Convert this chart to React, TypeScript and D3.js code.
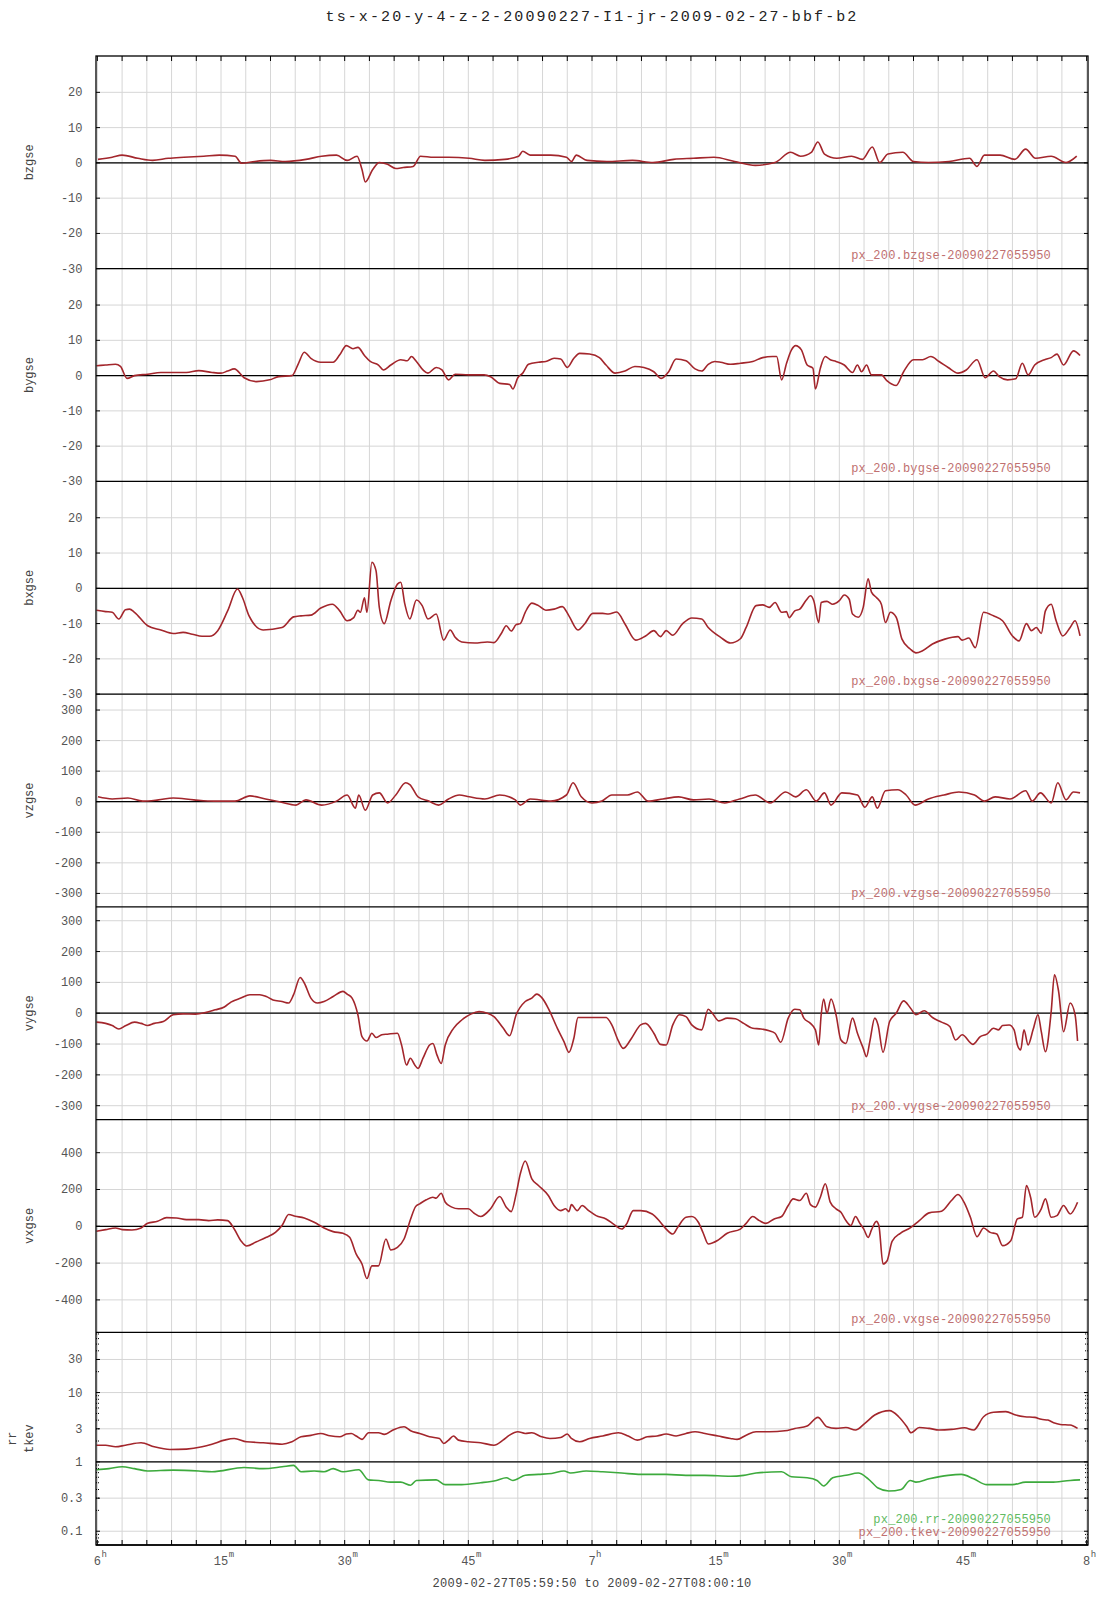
import React from 'react';
import * as d3 from 'd3';

// ---------- data (time in minutes after 06:00, value) ----------
const bzgse: [number, number][] = [[0.07,1.0],[1.8,1.6],[3.0,2.2],[4.9,1.3],[6.7,0.7],[8.6,1.3],[10.5,1.6],[12.9,1.9],[14.8,2.2],[16.7,1.9],[17.5,-0.1],[19.1,0.4],[21.0,0.7],[22.8,0.4],[25.3,1.0],[27.2,1.9],[29.0,2.2],[30.3,0.7],[31.5,1.9],[32.1,-1.9],[32.5,-5.4],[33.4,-1.9],[34.2,0.1],[35.2,-0.4],[36.2,-1.6],[37.1,-1.3],[38.3,-1.0],[39.2,1.9],[40.8,1.6],[42.6,1.6],[45.1,1.3],[47.0,0.7],[49.4,1.0],[51.1,1.9],[51.6,3.3],[52.5,2.2],[55.0,2.2],[56.9,1.6],[57.5,0.4],[58.1,2.2],[59.4,0.7],[61.8,0.4],[64.9,0.7],[67.4,0.1],[69.9,1.0],[72.3,1.3],[74.8,1.6],[77.3,0.4],[79.8,-0.7],[82.2,0.1],[84.1,3.0],[85.3,1.9],[86.6,3.0],[87.4,5.9],[88.2,2.5],[89.7,1.3],[91.5,1.9],[92.8,1.0],[94.0,4.5],[94.9,0.1],[95.9,2.5],[97.7,3.0],[99.0,0.4],[100.8,0.1],[103.3,0.4],[105.8,1.3],[106.7,-1.0],[107.6,2.2],[109.5,2.2],[111.3,1.0],[112.6,3.9],[113.8,1.3],[115.7,1.9],[117.5,0.1],[118.8,1.9]];

const bygse: [number, number][] = [[-0.1,2.8],[1.0,3.0],[2.2,3.2],[2.8,2.6],[3.6,-0.8],[4.5,0],[6.1,0.4],[7.7,0.9],[9.2,0.9],[10.8,0.9],[12.3,1.4],[13.9,0.9],[15.0,0.7],[15.8,1.3],[16.6,1.9],[17.8,-0.6],[19.3,-1.7],[20.9,-1.2],[22.0,-0.3],[23.6,0],[24.4,3.5],[25.1,6.6],[25.9,4.9],[27.1,3.8],[28.6,3.8],[29.4,5.9],[30.2,8.5],[31.0,7.6],[31.6,8.0],[32.4,5.7],[33.1,4.0],[34.1,3.0],[34.7,1.6],[35.6,3.0],[36.8,4.5],[37.6,4.2],[38.1,5.4],[38.7,4.0],[39.5,1.6],[40.1,0.7],[41.1,2.3],[41.8,1.6],[42.6,-1.2],[43.4,0.4],[45.0,0.2],[46.9,0.2],[47.7,-0.3],[48.8,-2.2],[50.0,-2.5],[50.4,-3.8],[51.0,-0.6],[51.6,0.7],[52.3,3.2],[53.5,3.8],[54.4,4.0],[55.4,4.9],[56.2,4.7],[57.0,2.3],[57.8,4.9],[58.5,6.3],[59.7,6.1],[60.9,5.1],[61.7,3.0],[62.8,0.7],[64.0,1.3],[65.2,2.6],[66.3,2.3],[67.5,1.1],[68.4,-0.8],[69.3,1.1],[70.2,4.7],[71.4,4.2],[72.5,1.9],[73.3,1.3],[74.1,3.2],[74.9,4.0],[75.6,3.8],[76.8,3.2],[78.0,3.5],[79.5,4.0],[80.7,5.1],[81.9,5.4],[82.4,5.4],[83.0,-1.2],[83.6,3.5],[84.2,7.3],[84.7,8.5],[85.4,7.3],[86.1,3.0],[86.8,2.1],[87.1,-3.8],[87.7,2.1],[88.3,5.4],[88.9,4.5],[89.6,4.0],[90.6,3.0],[91.6,0.9],[92.2,3.0],[92.7,1.1],[93.3,3.0],[93.9,0.2],[95.1,0.2],[95.8,-1.5],[96.9,-2.8],[97.8,1.1],[99.0,4.5],[100.1,4.5],[101.1,5.4],[102.1,4.0],[103.2,2.3],[104.4,0.7],[105.4,1.6],[106.7,4.5],[107.7,-0.6],[108.7,1.3],[109.4,-0.3],[110.4,-1.2],[111.4,-0.9],[112.2,3.5],[112.9,0.2],[113.7,3.0],[114.9,4.5],[115.7,5.1],[116.4,6.1],[117.2,3.0],[118.4,7.0],[119.2,5.7]];

const bxgse: [number, number][] = [[-0.1,-6.2],[1.0,-6.6],[1.8,-6.8],[2.6,-8.7],[3.4,-6.1],[3.9,-5.9],[4.5,-6.8],[6.1,-10.6],[7.7,-11.8],[9.2,-12.8],[10.4,-12.5],[11.5,-13.0],[12.7,-13.6],[13.6,-13.6],[14.6,-12.0],[15.8,-6.4],[17.0,-0.2],[17.6,-2.6],[18.4,-7.8],[20.1,-11.8],[22.4,-11.1],[23.8,-8.1],[24.7,-7.8],[25.9,-7.6],[27.1,-5.6],[28.5,-4.5],[29.4,-6.4],[30.3,-9.2],[31.1,-8.3],[31.6,-6.2],[31.9,-6.8],[32.4,-2.7],[32.7,-6.8],[33.3,7.4],[33.8,5.0],[34.2,-5.4],[34.8,-10.0],[35.6,-3.5],[36.4,1.2],[36.8,1.7],[37.3,-4.5],[37.9,-8.7],[38.7,-3.3],[39.4,-4.9],[40.1,-8.7],[41.1,-7.3],[42.0,-14.7],[42.8,-11.8],[43.4,-13.9],[44.2,-15.2],[45.8,-15.5],[47.3,-15.2],[48.1,-15.4],[49.0,-12.8],[49.6,-10.6],[50.2,-12.1],[50.8,-10.3],[51.3,-10.0],[51.9,-6.8],[52.7,-4.2],[53.5,-4.9],[54.4,-6.2],[55.4,-5.9],[56.4,-5.2],[57.2,-7.8],[58.3,-11.8],[59.1,-10.1],[60.1,-7.1],[61.3,-7.1],[62.0,-7.3],[63.0,-6.7],[64.0,-10.1],[65.3,-14.7],[66.5,-13.5],[67.5,-12.0],[68.3,-13.7],[69.0,-12.0],[69.8,-13.3],[71.0,-10.0],[72.1,-8.4],[73.3,-8.7],[74.1,-11.1],[75.6,-13.9],[76.8,-15.5],[78.0,-14.3],[78.7,-11.1],[79.9,-4.9],[80.7,-4.7],[81.5,-5.4],[82.2,-4.0],[83.0,-6.8],[83.6,-6.6],[83.9,-8.3],[84.6,-6.4],[85.2,-5.9],[86.0,-3.3],[86.5,-2.1],[86.9,-3.5],[87.5,-9.7],[87.8,-4.0],[88.5,-3.7],[89.2,-4.5],[90.0,-3.5],[90.6,-1.9],[91.2,-3.1],[91.6,-7.3],[92.3,-8.2],[92.9,-5.4],[93.5,2.7],[93.9,-1.1],[94.5,-2.6],[95.1,-4.5],[95.6,-9.7],[96.2,-6.8],[96.9,-8.2],[97.6,-14.4],[98.6,-17.2],[99.3,-18.3],[100.1,-17.7],[101.3,-15.8],[102.8,-14.4],[104.4,-13.7],[104.9,-14.7],[105.7,-14.1],[106.5,-16.8],[107.5,-6.8],[108.7,-7.8],[109.8,-9.2],[111.0,-13.5],[111.8,-14.9],[112.7,-10.0],[113.3,-12.0],[113.9,-11.1],[114.5,-12.8],[115.0,-6.4],[115.7,-4.5],[116.3,-9.2],[117.1,-13.5],[118.0,-11.1],[118.6,-9.2],[119.2,-13.5]];

const vzgse: [number, number][] = [[0.07,16],[1.8,9],[3.7,12],[5.5,2],[7.4,6],[9.2,12],[11.7,6],[14.2,2],[16.7,2],[18.5,19],[20.4,9],[22.2,-1],[24.1,-11],[25.3,6],[27.2,-11],[29.0,2],[30.3,22],[31.3,-21],[31.7,22],[32.5,-28],[33.4,22],[34.2,29],[35.2,-4],[36.2,22],[37.4,62],[37.9,56],[38.9,16],[40.2,2],[41.4,-11],[42.6,9],[43.9,22],[45.1,16],[47.0,9],[48.8,22],[50.7,6],[51.3,-11],[52.5,9],[55.0,2],[56.9,22],[57.7,62],[58.7,16],[60.0,-4],[61.2,2],[62.4,22],[64.3,22],[65.5,32],[66.8,2],[68.6,9],[70.5,16],[72.3,6],[74.2,9],[76.1,-4],[77.9,9],[79.8,22],[81.6,-4],[83.5,32],[84.7,16],[86.0,39],[87.2,2],[88.2,29],[89.0,-11],[90.3,29],[92.2,22],[93.1,-18],[94.0,16],[94.6,-21],[95.6,36],[97.1,39],[98.1,22],[99.2,-11],[100.8,9],[102.7,22],[104.5,32],[106.4,22],[107.6,2],[108.9,16],[110.7,9],[112.6,36],[113.4,2],[114.4,29],[115.7,-4],[116.5,62],[117.5,6],[118.4,32],[119.2,29]];

const vygse: [number, number][] = [[-0.1,-29],[1.0,-33],[1.8,-40],[2.6,-51],[3.4,-41],[4.5,-29],[5.3,-33],[6.1,-40],[6.9,-33],[8.0,-27],[9.2,-5],[10.4,-2],[11.9,-3],[13.1,2],[14.3,11],[15.4,20],[16.2,36],[17.4,49],[18.5,60],[19.7,60],[20.5,54],[21.3,43],[22.4,38],[23.2,33],[23.8,60],[24.6,116],[25.1,98],[25.9,49],[26.7,33],[27.5,38],[28.6,54],[29.8,71],[30.3,62],[30.9,49],[31.6,-5],[32.1,-76],[32.7,-90],[33.3,-65],[33.8,-79],[34.5,-70],[35.2,-68],[36.4,-65],[36.9,-103],[37.5,-168],[37.96,-146],[38.5,-168],[38.9,-179],[39.5,-146],[40.3,-103],[40.7,-98],[41.2,-136],[41.7,-163],[42.2,-103],[43.2,-49],[44.2,-22],[45.3,-3],[46.3,5],[47.3,0],[48.1,-11],[49.2,-47],[50.0,-73],[50.8,-5],[51.9,38],[52.7,49],[53.3,62],[53.96,49],[54.7,16],[55.8,-49],[56.6,-92],[57.2,-127],[57.8,-81],[58.3,-14],[59.6,-14],[60.9,-14],[61.7,-14],[62.4,-38],[63.2,-90],[63.8,-114],[64.8,-81],[65.9,-38],[66.5,-33],[67.5,-65],[68.3,-101],[69.0,-103],[69.8,-38],[70.6,-5],[71.4,-11],[72.1,-38],[73.3,-54],[74.1,13],[74.6,0],[75.4,-25],[76.4,-16],[77.4,-18],[78.4,-33],[79.5,-49],[80.5,-51],[81.5,-57],[82.2,-65],[82.9,-94],[83.8,-16],[84.6,13],[85.2,11],[85.7,-16],[86.5,-33],[87.1,-54],[87.5,-103],[87.8,-5],[88.1,46],[88.5,0],[89.0,46],[89.6,-5],[90.2,-87],[90.8,-98],[91.6,-16],[92.2,-65],[92.9,-114],[93.3,-141],[93.7,-92],[94.3,-16],[94.7,-38],[95.3,-127],[96.1,-27],[96.9,0],[97.8,40],[98.6,18],[99.3,-5],[100.3,8],[101.3,-14],[102.4,-29],[103.4,-43],[104.1,-87],[104.9,-70],[106.2,-101],[107.1,-76],[107.9,-68],[108.7,-49],[109.3,-54],[109.8,-40],[110.6,-38],[111.2,-54],[111.6,-103],[112.0,-119],[112.4,-54],[112.9,-103],[113.5,-54],[114.1,-5],[114.5,-60],[115.0,-125],[115.7,5],[116.1,125],[116.6,71],[117.2,-60],[118.0,33],[118.6,-5],[118.9,-90]];

const vxgse: [number, number][] = [[-0.1,-27],[1.0,-18],[2.2,-9],[3.0,-18],[4.2,-20],[5.3,-9],[6.1,16],[7.3,27],[8.4,47],[9.6,45],[10.8,36],[12.3,36],[13.5,31],[14.6,35],[15.8,31],[16.6,-15],[17.4,-78],[18.1,-107],[19.3,-84],[20.5,-60],[21.6,-33],[22.4,4],[23.2,64],[24.0,55],[25.1,45],[26.3,22],[27.5,-9],[28.6,-29],[29.8,-38],[30.6,-60],[31.4,-151],[32.1,-205],[32.7,-284],[33.3,-215],[34.1,-215],[35.0,-69],[35.6,-129],[36.4,-115],[37.2,-69],[38.0,40],[38.6,107],[39.1,122],[39.9,144],[40.7,158],[41.1,153],[41.7,180],[42.2,131],[43.0,104],[43.8,95],[45.0,95],[45.7,71],[46.5,53],[47.7,95],[48.8,162],[49.6,104],[50.2,80],[50.8,176],[51.3,285],[51.9,355],[52.7,258],[53.5,222],[54.7,167],[55.4,113],[56.2,85],[56.8,95],[57.2,80],[57.5,118],[58.2,85],[58.8,113],[59.6,85],[60.5,58],[61.7,40],[62.7,9],[63.6,-15],[64.2,13],[65.0,85],[65.9,85],[67.3,67],[68.3,22],[69.0,-15],[69.8,-42],[70.4,-5],[71.4,49],[72.1,53],[72.9,22],[73.5,-38],[74.1,-96],[75.3,-75],[76.4,-38],[78.0,-15],[78.7,16],[79.5,53],[80.3,31],[81.1,16],[82.1,40],[83.0,53],[83.8,113],[84.4,149],[85.2,140],[86.0,180],[86.5,118],[87.1,104],[87.7,158],[88.3,231],[88.9,131],[89.6,95],[90.2,76],[90.8,31],[91.4,4],[91.96,53],[92.5,16],[92.97,-15],[93.5,-60],[93.9,-20],[94.5,27],[94.8,4],[95.3,-205],[95.8,-187],[96.4,-82],[97.4,-38],[98.6,-9],[99.7,31],[100.9,73],[102.4,82],[103.6,140],[104.4,173],[105.2,125],[105.9,49],[106.7,-56],[107.5,-9],[108.3,-33],[109.1,-42],[109.8,-105],[110.8,-78],[111.6,40],[112.2,49],[112.7,222],[113.2,158],[113.7,49],[114.5,95],[115.0,149],[115.7,49],[116.4,58],[117.2,113],[118.0,67],[118.9,131]];

const tkev: [number, number][] = [[-0.1,1.74],[1.0,1.74],[2.2,1.65],[3.4,1.74],[5.3,1.89],[6.9,1.65],[8.8,1.51],[10.8,1.53],[12.7,1.65],[13.9,1.80],[15.4,2.06],[16.6,2.18],[18.1,1.95],[20.1,1.89],[22.4,1.80],[23.6,1.95],[24.7,2.30],[25.9,2.41],[27.1,2.57],[28.2,2.38],[29.4,2.30],[30.2,2.52],[30.8,2.57],[31.4,2.36],[32.1,2.11],[32.9,2.63],[34.1,2.63],[34.8,2.49],[36.0,2.94],[37.2,3.21],[38.0,2.81],[39.1,2.57],[40.3,2.30],[41.5,2.18],[42.0,1.84],[42.6,2.06],[43.2,2.36],[43.8,2.06],[45.0,1.95],[46.5,1.89],[48.1,1.74],[49.2,2.06],[50.0,2.43],[51.0,2.72],[51.9,2.57],[52.7,2.63],[53.9,2.30],[54.9,2.18],[56.2,2.25],[57.0,2.52],[57.5,2.18],[58.5,1.95],[59.7,2.18],[61.3,2.36],[63.2,2.63],[64.4,2.36],[65.5,2.06],[66.7,2.30],[67.9,2.36],[69.0,2.52],[70.2,2.36],[71.4,2.57],[72.5,2.72],[73.7,2.57],[75.3,2.36],[76.8,2.18],[77.6,2.11],[78.7,2.43],[79.9,2.72],[81.5,2.72],[83.4,2.81],[84.6,3.04],[86.1,3.29],[87.4,4.39],[88.5,3.21],[89.6,3.04],[90.8,3.14],[91.96,2.88],[93.1,3.60],[94.3,4.74],[96.1,5.49],[97.2,4.48],[98.2,3.21],[98.7,2.63],[99.7,3.14],[100.9,3.04],[102.1,2.88],[103.6,2.94],[105.2,3.10],[106.3,2.88],[107.5,4.48],[108.7,5.19],[110.2,5.30],[111.4,4.74],[112.5,4.48],[113.7,4.39],[114.5,4.11],[115.3,4.01],[116.0,3.67],[116.8,3.47],[118.0,3.40],[118.9,3.04]];

const rr: [number, number][] = [[-0.1,0.77],[1.4,0.80],[3.0,0.85],[4.5,0.80],[6.1,0.74],[9.2,0.76],[12.3,0.74],[13.9,0.72],[17.8,0.83],[20.1,0.80],[22.4,0.85],[23.8,0.89],[24.7,0.72],[26.3,0.74],[27.5,0.72],[28.6,0.80],[29.8,0.72],[31.7,0.77],[32.9,0.55],[34.1,0.54],[35.6,0.51],[36.8,0.51],[38.0,0.46],[38.7,0.54],[41.1,0.55],[42.2,0.47],[44.2,0.47],[46.5,0.50],[48.4,0.54],[49.6,0.59],[50.4,0.54],[51.9,0.64],[53.5,0.66],[55.1,0.68],[56.6,0.74],[57.4,0.69],[59.3,0.74],[61.3,0.72],[63.6,0.69],[65.9,0.66],[69.0,0.66],[71.4,0.64],[73.7,0.64],[76.8,0.62],[78.4,0.64],[79.9,0.69],[83.0,0.72],[84.2,0.61],[86.1,0.59],[87.3,0.54],[88.1,0.45],[89.2,0.59],[90.8,0.64],[92.3,0.69],[93.5,0.57],[94.7,0.42],[96.0,0.38],[97.5,0.40],[98.6,0.54],[99.3,0.51],[100.9,0.57],[103.2,0.64],[104.8,0.66],[106.3,0.57],[107.9,0.47],[111.0,0.47],[112.6,0.51],[114.1,0.51],[115.7,0.51],[118.0,0.54],[119.2,0.55]];

const bTicks = [20, 10, 0, -10, -20, -30];
const vTicks = [300, 200, 100, 0, -100, -200, -300];
const vxTicks = [400, 200, 0, -200, -400];
const logTicks = [30, 10, 3, 1, 0.3, 0.1];
const xLabelMinutes = [0, 15, 30, 45, 60, 75, 90, 105, 120];
const xLabelMain = ['6', '15', '30', '45', '7', '15', '30', '45', '8'];
const xLabelSup = ['h', 'm', 'm', 'm', 'h', 'm', 'm', 'm', 'h'];

const TITLE = 'ts-x-20-y-4-z-2-20090227-I1-jr-2009-02-27-bbf-b2';
const RANGE_TEXT = '2009-02-27T05:59:50 to 2009-02-27T08:00:10';

// ---------- layout ----------
const W = 1107, H = 1600;
const L = 96, R = 1088, TOP = 56, BOT = 1545;
const NP = 7;
const PH = (BOT - TOP) / NP;
const FONT = "'Courier New', 'Liberation Mono', 'DejaVu Sans Mono', monospace";
const RED = '#a3262c';
const GREEN = '#3daa3d';
const RED_TXT = '#c07070';
const GREEN_TXT = '#62bb62';
const GRID = '#d6d6d6';

const x = d3.scaleLinear().domain([-10 / 60, 120 + 10 / 60]).range([L, R]);

type Panel = {
  label: string[];
  domain: [number, number];
  ticks: number[];
  log?: boolean;
  series: { data: [number, number][]; color: string }[];
  legends: { text: string; color: string }[];
  zero: number;
};

const panels: Panel[] = [
  { label: ['bzgse'], domain: [-30, 30.3], ticks: bTicks, series: [{ data: bzgse, color: RED }], legends: [{ text: 'px_200.bzgse-20090227055950', color: RED_TXT }], zero: 0 },
  { label: ['bygse'], domain: [-30, 30.3], ticks: bTicks, series: [{ data: bygse, color: RED }], legends: [{ text: 'px_200.bygse-20090227055950', color: RED_TXT }], zero: 0 },
  { label: ['bxgse'], domain: [-30, 30.3], ticks: bTicks, series: [{ data: bxgse, color: RED }], legends: [{ text: 'px_200.bxgse-20090227055950', color: RED_TXT }], zero: 0 },
  { label: ['vzgse'], domain: [-344, 352], ticks: vTicks, series: [{ data: vzgse, color: RED }], legends: [{ text: 'px_200.vzgse-20090227055950', color: RED_TXT }], zero: 0 },
  { label: ['vygse'], domain: [-345, 345], ticks: vTicks, series: [{ data: vygse, color: RED }], legends: [{ text: 'px_200.vygse-20090227055950', color: RED_TXT }], zero: 0 },
  { label: ['vxgse'], domain: [-576, 580], ticks: vxTicks, series: [{ data: vxgse, color: RED }], legends: [{ text: 'px_200.vxgse-20090227055950', color: RED_TXT }], zero: 0 },
  { label: ['rr', 'tkev'], domain: [0.0633, 74], ticks: logTicks, log: true, series: [{ data: rr, color: GREEN }, { data: tkev, color: RED }], legends: [{ text: 'px_200.rr-20090227055950', color: GREEN_TXT }, { text: 'px_200.tkev-20090227055950', color: RED_TXT }], zero: 1 },
];

const gridMinutes = d3.range(0, 121, 3);

export default function App() {
  return (
    <svg width={W} height={H} style={{ position: 'absolute', left: 0, top: 0, background: '#fff' }} fontFamily={FONT}>
      <rect x={0} y={0} width={W} height={H} fill="#fff" />
      <text x={592} y={20.5} textAnchor="middle" fontSize={15} letterSpacing={2.1} fill="#222">{TITLE}</text>

      {gridMinutes.map((m) => (
        <line key={'vg' + m} x1={x(m)} x2={x(m)} y1={TOP} y2={BOT} stroke={GRID} strokeWidth={1} />
      ))}

      {panels.map((p, i) => {
        const top = TOP + i * PH;
        const bottom = top + PH;
        const y = p.log
          ? d3.scaleLog().domain(p.domain).range([bottom, top])
          : d3.scaleLinear().domain(p.domain).range([bottom, top]);
        const line = d3.line<[number, number]>().x((d) => x(d[0])).y((d) => y(d[1])).curve(d3.curveMonotoneX);
        const minor: number[] = [];
        if (p.log) {
          for (let k = -2; k <= 1; k++) {
            for (let m = 2; m <= 9; m++) {
              const v = m * Math.pow(10, k);
              if (v > p.domain[0] && v < p.domain[1]) minor.push(v);
            }
          }
        }
        const legendBase = bottom - 9.5;
        return (
          <g key={'p' + i}>
            {p.ticks.map((t) => (
              <line key={'hg' + t} x1={L} x2={R} y1={y(t)} y2={y(t)} stroke={GRID} strokeWidth={1} />
            ))}
            <line x1={L} x2={R} y1={y(p.zero)} y2={y(p.zero)} stroke="#000" strokeWidth={1.2} />
            {p.series.map((s, j) => (
              <path key={'s' + j} d={line(s.data) || ''} fill="none" stroke={s.color} strokeWidth={1.6} strokeLinejoin="round" />
            ))}
            {p.legends.map((lg, j) => (
              <text key={'lg' + j} x={1051} y={legendBase - (p.legends.length - 1 - j) * 13} textAnchor="end" fontSize={12} letterSpacing={0.2} fill={lg.color}>{lg.text}</text>
            ))}
            {p.ticks.map((t) => (
              <g key={'tk' + t}>
                <line x1={L} x2={L + 4} y1={y(t)} y2={y(t)} stroke="#000" strokeWidth={1} />
                <line x1={R - 4} x2={R} y1={y(t)} y2={y(t)} stroke="#000" strokeWidth={1} />
                <text x={82.5} y={y(t) + 4} textAnchor="end" fontSize={12} fill="#555">{String(t)}</text>
              </g>
            ))}
            {minor.map((v) => (
              <g key={'mn' + v}>
                <line x1={L} x2={L + 3} y1={y(v)} y2={y(v)} stroke="#000" strokeWidth={1} strokeDasharray="1,1" />
                <line x1={R - 3} x2={R} y1={y(v)} y2={y(v)} stroke="#000" strokeWidth={1} strokeDasharray="1,1" />
              </g>
            ))}
            {p.label.map((lb, j) => {
              const lx = p.label.length === 1 ? 30 : 13 + j * 17;
              const ly = (top + bottom) / 2;
              return (
                <text key={'lb' + j} transform={`translate(${lx},${ly}) rotate(-90)`} textAnchor="middle" dominantBaseline="middle" fontSize={12} fill="#444">{lb}</text>
              );
            })}
            <line x1={L} x2={R} y1={bottom} y2={bottom} stroke="#000" strokeWidth={1.3} />
          </g>
        );
      })}

      <rect x={L} y={TOP} width={R - L} height={BOT - TOP} fill="none" stroke="#000" strokeWidth={1.3} />

      {gridMinutes.map((m) => (
        <g key={'tt' + m}>
          <line x1={x(m)} x2={x(m)} y1={TOP} y2={TOP + 5} stroke="#000" strokeWidth={1} />
          <line x1={x(m)} x2={x(m)} y1={BOT - 5} y2={BOT} stroke="#000" strokeWidth={1} />
        </g>
      ))}

      {xLabelMinutes.map((m, i) => {
        const half = (xLabelMain[i].length * 7.2) / 2;
        return (
          <g key={'xl' + m}>
            <text x={x(m)} y={1565} textAnchor="middle" fontSize={12} fill="#555">{xLabelMain[i]}</text>
            <text x={x(m) + half + 0.5} y={1557} textAnchor="start" fontSize={9} fill="#555">{xLabelSup[i]}</text>
          </g>
        );
      })}

      <text x={592} y={1587} textAnchor="middle" fontSize={12} letterSpacing={0.4} fill="#444">{RANGE_TEXT}</text>
    </svg>
  );
}
